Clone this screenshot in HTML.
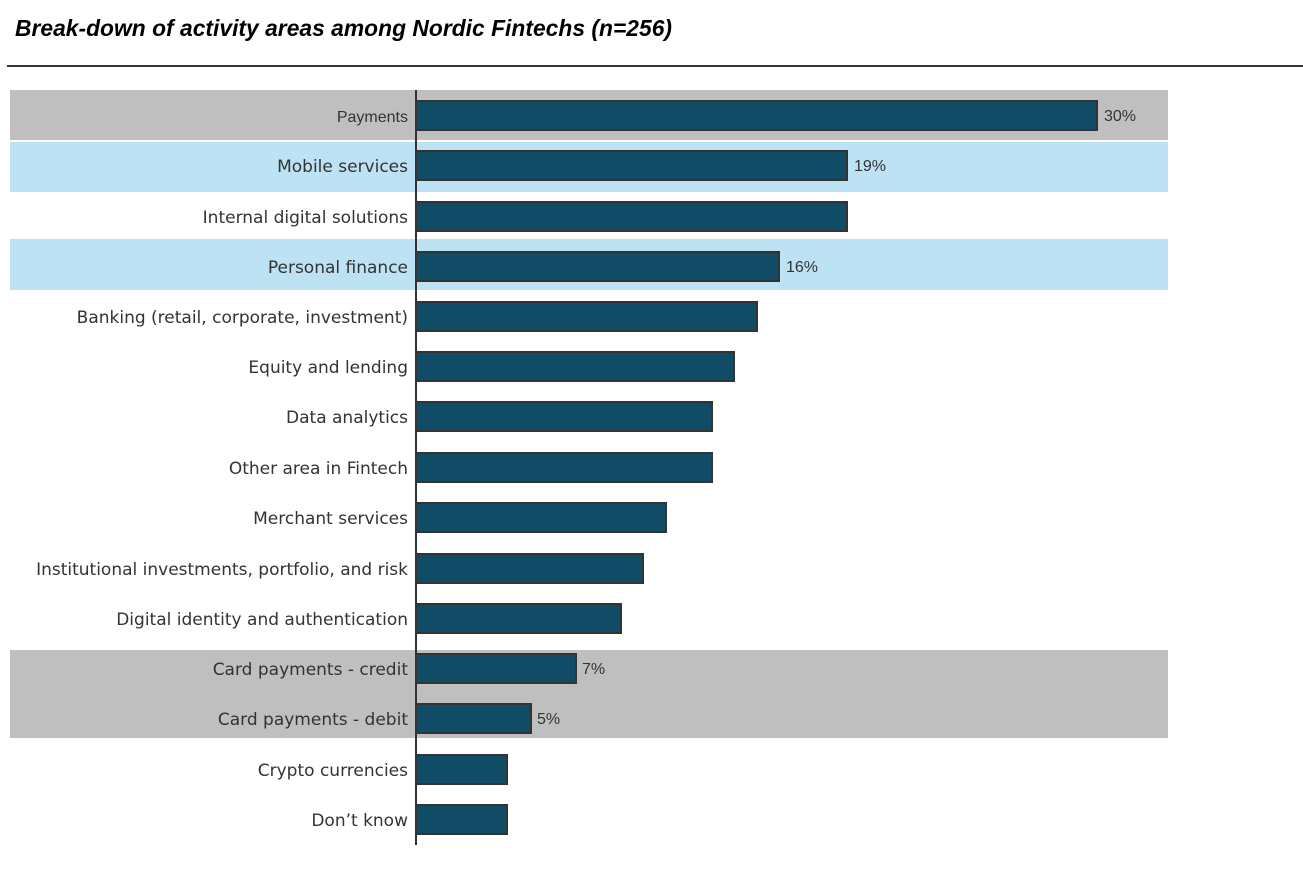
<!DOCTYPE html>
<html><head><meta charset="utf-8"><style>
body{margin:0;background:#fff;width:1303px;height:872px;overflow:hidden}
</style></head><body>
<svg width="1303" height="872" xmlns="http://www.w3.org/2000/svg">
<text x="15" y="36" font-family="Liberation Sans, sans-serif" font-size="22.8" font-weight="bold" font-style="italic" fill="#000" textLength="657">Break-down of activity areas among Nordic Fintechs (n=256)</text>
<rect x="7" y="65" width="1296" height="2" fill="#333"/>
<rect x="10" y="90" width="1158" height="50" fill="#bfbfbf"/>
<rect x="10" y="142" width="1158" height="50" fill="#bde2f4"/>
<rect x="10" y="239" width="1158" height="51" fill="#bde2f4"/>
<rect x="10" y="650" width="1158" height="88" fill="#bfbfbf"/>
<g fill="#104c66" stroke="#333" stroke-width="2">
<rect x="416" y="101" width="681" height="29"/>
<rect x="416" y="151" width="431" height="29"/>
<rect x="416" y="202" width="431" height="29"/>
<rect x="416" y="252" width="363" height="29"/>
<rect x="416" y="302" width="341" height="29"/>
<rect x="416" y="352" width="318" height="29"/>
<rect x="416" y="402" width="296" height="29"/>
<rect x="416" y="453" width="296" height="29"/>
<rect x="416" y="503" width="250" height="29"/>
<rect x="416" y="554" width="227" height="29"/>
<rect x="416" y="604" width="205" height="29"/>
<rect x="416" y="654" width="160" height="29"/>
<rect x="416" y="704" width="115" height="29"/>
<rect x="416" y="755" width="91" height="29"/>
<rect x="416" y="805" width="91" height="29"/>
</g>
<rect x="415" y="90" width="2" height="755" fill="#333"/>
<g font-family="DejaVu Sans, sans-serif" font-size="17" fill="#333" text-anchor="end">
<text x="408" y="122" font-family="Liberation Sans, sans-serif" font-size="16">Payments</text>
<text x="408" y="172">Mobile services</text>
<text x="408" y="223">Internal digital solutions</text>
<text x="408" y="273">Personal finance</text>
<text x="408" y="323">Banking (retail, corporate, investment)</text>
<text x="408" y="373">Equity and lending</text>
<text x="408" y="423">Data analytics</text>
<text x="408" y="474">Other area in Fintech</text>
<text x="408" y="524">Merchant services</text>
<text x="408" y="575">Institutional investments, portfolio, and risk</text>
<text x="408" y="625">Digital identity and authentication</text>
<text x="408" y="675">Card payments - credit</text>
<text x="408" y="725">Card payments - debit</text>
<text x="408" y="776">Crypto currencies</text>
<text x="408" y="826">Don’t know</text>
</g>
<g font-family="Liberation Sans, sans-serif" font-size="16" fill="#333">
<text x="1104" y="121">30%</text>
<text x="854" y="171">19%</text>
<text x="786" y="272">16%</text>
<text x="582" y="674">7%</text>
<text x="537" y="724">5%</text>
</g>
</svg>
</body></html>
